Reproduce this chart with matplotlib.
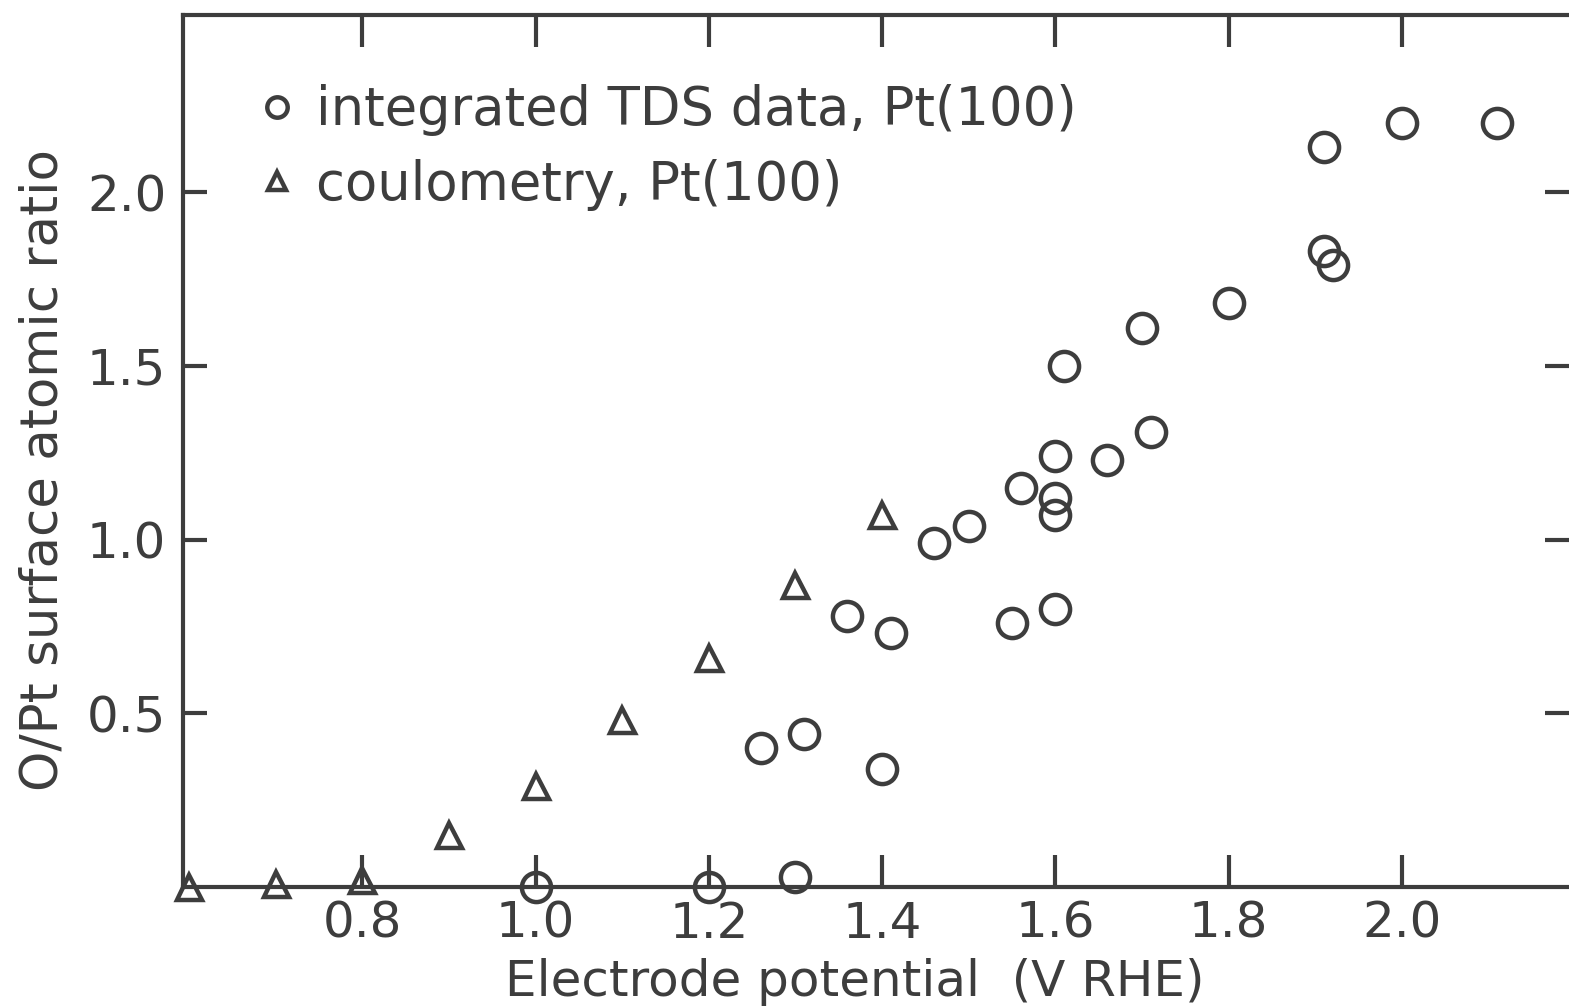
import matplotlib
matplotlib.use("Agg")
import matplotlib.pyplot as plt

# integrated TDS data, Pt(100)
tds_potential = [1.00, 1.20, 1.30, 1.26, 1.31, 1.40, 1.36, 1.41, 1.46, 1.50,
                 1.55, 1.60, 1.56, 1.60, 1.60, 1.60, 1.61, 1.66, 1.71, 1.70,
                 1.80, 1.91, 1.91, 1.92, 2.00, 2.11]
tds_ratio = [0.00, 0.00, 0.03, 0.40, 0.44, 0.34, 0.78, 0.73, 0.99, 1.04,
             0.76, 0.80, 1.15, 1.24, 1.12, 1.07, 1.50, 1.23, 1.31, 1.61,
             1.68, 2.13, 1.83, 1.79, 2.20, 2.20]

# coulometry, Pt(100)
coul_potential = [0.60, 0.70, 0.80, 0.90, 1.00, 1.10, 1.20, 1.30, 1.40]
coul_ratio = [0.00, 0.01, 0.02, 0.15, 0.29, 0.48, 0.66, 0.87, 1.07]

x_ticks = [0.8, 1.0, 1.2, 1.4, 1.6, 1.8, 2.0]
y_ticks = [0.5, 1.0, 1.5, 2.0]

ink = "#3d3d3d"
font = "DejaVu Sans"

fig = plt.figure(figsize=(15.69, 10.08), dpi=100)
ax = fig.add_axes([0.1166, 0.12, 0.8834, 0.865])

ax.plot(tds_potential, tds_ratio, linestyle="none", marker="o", ms=21,
        mfc="none", mec=ink, mew=3.2, clip_on=False, zorder=3,
        label="integrated TDS data, Pt(100)")
ax.plot(coul_potential, coul_ratio, linestyle="none", marker="^", ms=18,
        mfc="none", mec=ink, mew=3.2, clip_on=False, zorder=3,
        label="coulometry, Pt(100)")

ax.set_xlim(0.593, 2.193)
ax.set_ylim(0.0, 2.51)

for side in ["left", "top", "bottom"]:
    ax.spines[side].set_linewidth(3)
    ax.spines[side].set_color(ink)
ax.spines["right"].set_visible(False)

ax.set_xticks(x_ticks)
ax.set_xticklabels([f"{v:.1f}" for v in x_ticks])
ax.set_yticks(y_ticks)
ax.set_yticklabels([f"{v:.1f}" for v in y_ticks])

ax.tick_params(axis="x", direction="in", length=23, width=3, color=ink,
               top=True, bottom=True, labelsize=36, labelcolor=ink, pad=9)
ax.tick_params(axis="y", direction="in", length=17, width=3, color=ink,
               left=True, right=True, labelsize=36, labelcolor=ink, pad=12)
for lab in ax.get_xticklabels() + ax.get_yticklabels():
    lab.set_family(font)

fig.text(0.545, 0.026, "Electrode potential  (V RHE)", ha="center", va="center",
         fontsize=36, color=ink, family=font)
fig.text(0.028, 0.534, "O/Pt surface atomic ratio", ha="center", va="center",
         rotation=90, fontsize=37, color=ink, family=font)

leg = ax.legend(loc="upper left", bbox_to_anchor=(0.022, 0.975), frameon=False,
                markerscale=0.7, handlelength=0.6, handletextpad=0.45,
                labelspacing=0.42, prop={"family": font, "size": 38})
for txt in leg.get_texts():
    txt.set_color(ink)

fig.savefig("out.png", dpi=100)
